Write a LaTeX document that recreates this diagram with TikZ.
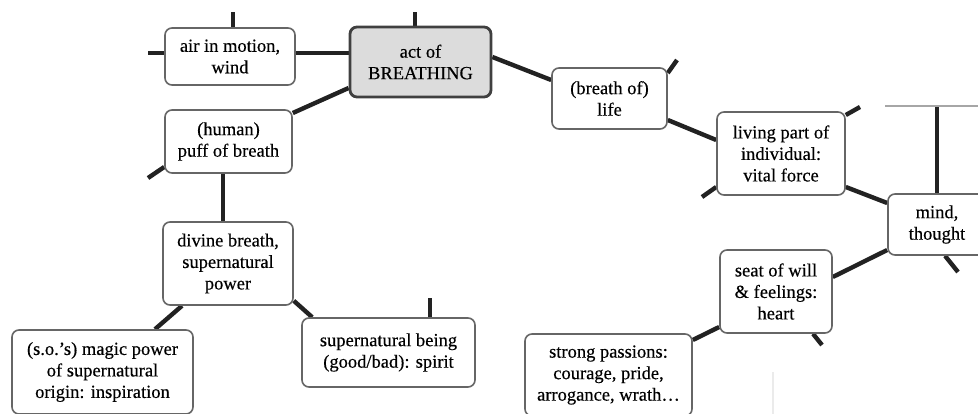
\documentclass[tikz,border=0pt]{standalone}
\usepackage{fontspec}
\setmainfont[FakeBold=0.35]{Liberation Serif}
\usetikzlibrary{backgrounds}
\definecolor{boxline}{HTML}{666666}
\definecolor{linkc}{HTML}{222222}
\definecolor{hubfill}{HTML}{DCDCDC}
\begin{document}
\begin{tikzpicture}[x=1pt,y=-1pt,
  sense/.style={draw=boxline, line width=1.6pt, rounded corners=7pt, fill=white,
    align=center, inner sep=0pt, font=\fontsize{18.5}{21.5}\selectfont},
  hub/.style={sense, draw=black!75, line width=2.8pt, fill=hubfill},
  link/.style={draw=linkc, line width=4.4pt},
  faint/.style={draw=black!35, line width=1.2pt}]
\useasboundingbox (0,0) rectangle (978,414);
\clip (0,0) rectangle (978,414);

% sense boxes
\node[sense, minimum width=130pt, minimum height=57pt] (air) at (230,56.5) {air in motion,\\ wind};
\node[hub, minimum width=141pt, minimum height=70pt] (act) at (420.5,62) {act of\\ BREATHING};
\node[sense, minimum width=115pt, minimum height=61pt] (life) at (609.5,98.5) {(breath of)\\ life};
\node[sense, minimum width=128pt, minimum height=83pt] (living) at (781,153.5) {living part of\\ individual:\\ vital force};
\node[sense, minimum width=98pt, minimum height=61pt] (mind) at (937,224.5) {mind,\\ thought};
\node[sense, minimum width=112pt, minimum height=83pt] (seat) at (776,291.5) {seat of will\\ \& feelings:\\ heart};
\node[sense, minimum width=167pt, minimum height=82pt] (strong) at (608.5,375) {strong passions:\\ courage, pride,\\ arrogance, wrath…};
\node[sense, minimum width=127pt, minimum height=63pt] (puff) at (228.5,141.5) {(human)\\ puff of breath};
\node[sense, minimum width=130pt, minimum height=83pt] (divine) at (228,263.5) {divine breath,\\ supernatural\\ power};
\node[sense, minimum width=181pt, minimum height=84pt] (magic) at (102.5,372) {(s.o.'s) magic power\\ of supernatural\\ origin: inspiration};
\node[sense, minimum width=173pt, minimum height=69pt] (spirit) at (388.5,352.5) {supernatural being\\ (good/bad): spirit};

% loose ends leading out of the view
\coordinate (airTop) at (233,12);
\coordinate (airLeft) at (148,53);
\coordinate (actTop) at (415,12);
\coordinate (lifeOut) at (677,60);
\coordinate (livingOut) at (860,107);
\coordinate (livingIn) at (702,197);
\coordinate (mindTop) at (937,106);
\coordinate (mindOut) at (958,272);
\coordinate (seatOut) at (822,345);
\coordinate (puffOut) at (148,178);
\coordinate (spiritTop) at (430,298);
\coordinate (railL) at (885,106);
\coordinate (railR) at (978,106);
\coordinate (tickT) at (773,372);
\coordinate (tickB) at (773,414);

\begin{scope}[on background layer]
  % links between senses
  \draw[link] ([yshift=3.5pt]air.east) -- ([yshift=3.5pt]air.east -| act.west);
  \draw[link] ([yshift=5pt]act.east) -- ([yshift=18.5pt]life.west);
  \draw[link] ([yshift=-26pt]act.west) -- ([yshift=28.5pt]puff.east);
  \draw[link] ([yshift=-21.5pt]life.east) -- ([yshift=13.5pt]living.west);
  \draw[link] ([yshift=-33.5pt]living.east) -- ([yshift=21.5pt]mind.west);
  \draw[link] ([yshift=14.5pt]seat.east) -- ([yshift=-25.5pt]mind.west);
  \draw[link] ([yshift=35pt]strong.east) -- ([yshift=-35.5pt]seat.west);
  \draw[link] ([xshift=-5.5pt]puff.south) -- ([xshift=-5.5pt]puff.south |- divine.north);
  \draw[link] ([xshift=-46pt]divine.south) -- ([xshift=52.5pt]magic.north);
  \draw[link] ([yshift=5pt]divine.south east) -- ([xshift=11pt]spirit.north west);
  % stubs
  \draw[link] ([xshift=3pt]air.north) -- (airTop);
  \draw[link] ([yshift=3.5pt]air.west) -- (airLeft);
  \draw[link] ([xshift=-5.5pt]act.north) -- (actTop);
  \draw[link] ([yshift=25.5pt]life.east) -- (lifeOut);
  \draw[link] ([yshift=38.5pt]living.east) -- (livingOut);
  \draw[link] ([yshift=-33.5pt]living.west) -- (livingIn);
  \draw[link] (mind.north) -- (mindTop);
  \draw[link] ([xshift=8pt]mind.south) -- (mindOut);
  \draw[link] ([xshift=37pt]seat.south) -- (seatOut);
  \draw[link] ([yshift=-25.5pt]puff.west) -- (puffOut);
  \draw[link] ([xshift=41.5pt]spirit.north) -- (spiritTop);
  % thin rules
  \draw[faint] (railL) -- (railR);
  \draw[draw=black!8, line width=1.2pt] (tickT) -- (tickB);
\end{scope}
\end{tikzpicture}
\end{document}
